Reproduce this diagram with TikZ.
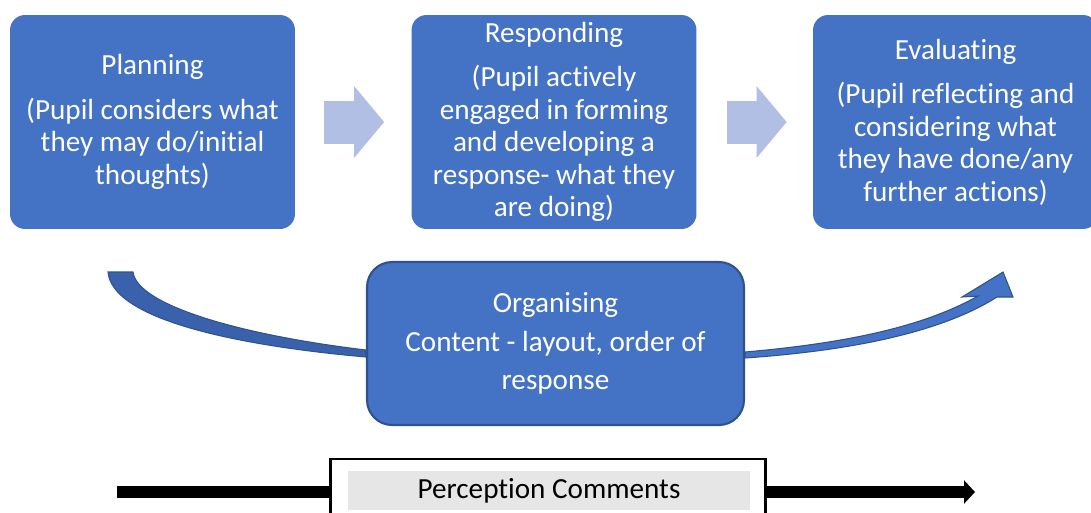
\documentclass[tikz,border=0pt]{standalone}
\usepackage{fontspec}
\setmainfont{Carlito}[Ligatures=NoCommon]
\usetikzlibrary{arrows.meta,calc}
\definecolor{boxblue}{HTML}{4472C4}
\definecolor{darkblue}{HTML}{2F528F}
\definecolor{paleblue}{HTML}{B0BFE3}
\definecolor{curveblue}{HTML}{3A62AC}
\definecolor{labelgrey}{HTML}{E6E6E6}
\tikzset{stage/.style={fill=boxblue,text=white,align=center,inner sep=0pt,
    rounded corners=0.3cm,minimum width=5.7cm,minimum height=4.28cm,
    font=\fontsize{16.6}{18.5}\selectfont}}
\tikzset{organise/.style={stage,draw=darkblue,line width=1.2pt,rounded corners=0.5cm,
    minimum width=7.54cm,minimum height=3.26cm,font=\fontsize{16.6}{22}\selectfont}}
\tikzset{blockarr/.style={paleblue,line width=0.86cm,-{Triangle[length=0.6cm,width=1.4cm]}}}
\tikzset{bendarr/.style={draw=darkblue,line width=0.6pt}}
\tikzset{bar/.style={black,line width=0.24cm}}
\tikzset{pcframe/.style={draw=black,fill=white,line width=1.5pt,minimum width=8.7cm,minimum height=1.32cm}}
\tikzset{pclabel/.style={fill=labelgrey,inner sep=0pt,minimum width=8.04cm,minimum height=0.78cm,
    font=\fontsize{16.6}{18.5}\selectfont}}

\begin{document}
\begin{tikzpicture}[x=0.02cm,y=-0.02cm]
    \useasboundingbox (0,0) rectangle (1091,512);
    % the three stages
    \node[stage] (plan) at (152.5,122) {Planning\\[0.24cm](Pupil considers what\\they may do/initial\\thoughts)};
    \node[stage] (resp) at (554,122) {Responding\\[0.24cm](Pupil actively\\engaged in forming\\and developing a\\response- what they\\are doing)};
    \node[stage] (eval) at (955.5,122) {Evaluating\\[0.24cm](Pupil reflecting and\\considering what\\they have done/any\\further actions)};
    \draw[blockarr] ($(plan.east)+(29,0)$) -- ($(resp.west)+(-27,0)$);
    \draw[blockarr] ($(resp.east)+(30,0)$) -- ($(eval.west)+(-26,0)$);
    % organising, with the bent arrow behind it
    \node[organise] (org) at (555.5,343.5) {Organising\\Content - layout, order of\\response};
    \fill[curveblue,bendarr] (108,272) .. controls (112,318) and (230,345) .. ($(org.west)+(0,13.5)$)
        -- ($(org.west)+(0,6.5)$) .. controls (240,335) and (137,305) .. (133,272) -- cycle;
    \fill[boxblue,bendarr] ($(org.east)+(0,14.5)$) .. controls (860,350) and (945,330) .. (997,297)
        -- (1013,297) -- (1003,272) -- (962,297) -- (978,296)
        .. controls (930,323) and (860,342) .. ($(org.east)+(0,8.5)$) -- cycle;
    % perception comments
    \node[pcframe] (pc) at (548,492) {};
    \node[pclabel] (pclab) at (549,490.5) {Perception Comments};
    \coordinate (barstart) at (117,492);
    \coordinate (barend) at (975,492);
    \draw[bar] (barstart) -- (pc.west);
    \draw[bar,-{Triangle[length=0.22cm,width=0.46cm]}] (pc.east) -- (barend);
\end{tikzpicture}
\end{document}
